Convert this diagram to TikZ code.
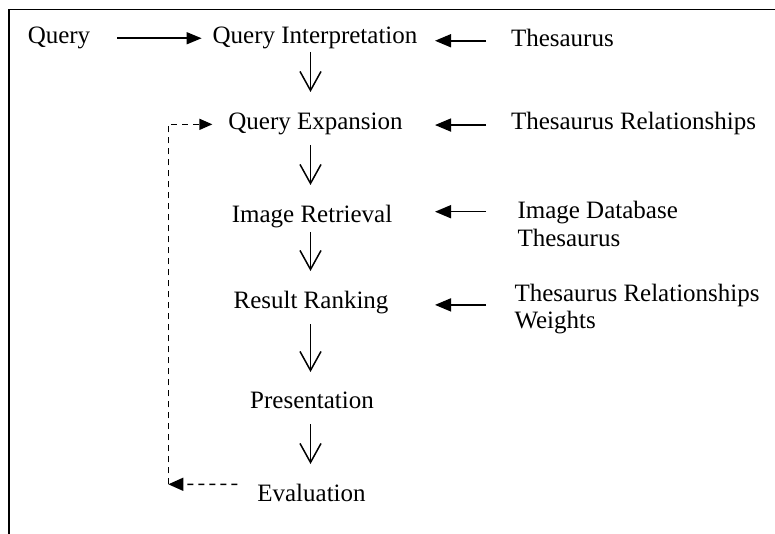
\documentclass[tikz,border=0pt]{standalone}
\usepackage{fontspec}
\setmainfont{Liberation Serif}
\usetikzlibrary{arrows.meta}
\begin{document}
\begin{tikzpicture}[x=1pt,y=-1pt,
  every node/.style={inner sep=0pt,outer sep=0pt,font=\fontsize{25}{27.5}\selectfont},
  lbl/.style={text height=17pt,text depth=5.5pt,anchor=base},
  side/.style={text height=17pt,text depth=5.5pt,anchor=base west},
  multi/.style={align=left,anchor=north west},
  flow/.style={line width=1.5pt,-{Straight Barb[length=19pt,width=21pt,line width=1.5pt]}},
  feed/.style={line width=1.6pt,-{Triangle[length=16pt,width=13pt]}},
  into/.style={line width=1.5pt,-{Triangle[length=15pt,width=12pt]}},
  back/.style={line width=1.5pt,dash pattern=on 6pt off 5pt}]
\useasboundingbox (0,0) rectangle (775,534);
% frame
\draw[line width=1.8pt] (9,535) -- (9,9.5) -- (776,9.5);

% main column
\node[lbl] (query) at (59,44) {Query};
\node[lbl] (qi)  at (315,44)    {Query Interpretation};
\node[lbl] (qe)  at (315.5,129.3) {Query Expansion};
\node[lbl] (ir)  at (312,222.3) {Image Retrieval};
\node[lbl] (rr)  at (311,308.3) {Result Ranking};
\node[lbl] (pr)  at (312,408.3) {Presentation};
\node[lbl] (ev)  at (311.5,501) {Evaluation};
\coordinate (axis) at (310.5,0);

% knowledge sources
\node[side]  (thes)  at (511,46.5)  {Thesaurus};
\node[side]  (threl) at (511,129.3) {Thesaurus Relationships};
\node[multi] (idb)   at (517.5,201.2) {Image Database\\Thesaurus};
\node[multi] (trw)   at (514.5,283.9) {Thesaurus Relationships\\Weights};

% query enters the process
\draw[into] ([xshift=27pt]query.east) -- ([xshift=-11pt]qi.west |- query.east);

% downward flow
\draw[flow,shorten <=2.5pt,shorten >=20.3pt] (qi.south -| axis) -- (qe.north -| axis);
\draw[flow,shorten <=10pt,shorten >=20.3pt] (qe.south -| axis) -- (ir.north -| axis);
\draw[flow,shorten <=4.2pt,shorten >=20.3pt] (ir.south -| axis) -- (rr.north -| axis);
\draw[flow,shorten <=10.2pt,shorten >=19.3pt] (rr.south -| axis) -- (pr.north -| axis);
\draw[flow,shorten <=10.2pt,shorten >=20pt] (pr.south -| axis) -- (ev.north -| axis);

% inputs from the knowledge sources
\draw[feed] ([xshift=-25pt]thes.west) -- ++(-51pt,0);
\draw[feed] ([xshift=-25pt,yshift=-1.5pt]threl.west) -- ++(-51pt,0);
\draw[feed] ([xshift=-31.5pt,yshift=-10.5pt]idb.north west) -- ++(-51pt,0);
\draw[feed] ([xshift=-28.5pt,yshift=-21pt]trw.north west) -- ++(-51pt,0);

% feedback loop from evaluation to query expansion
\coordinate (loop) at (168.3,484.3);
\draw[back,-{Triangle[length=15pt,width=13pt]}] ([xshift=-20pt,yshift=11pt]ev.west) -- (loop);
\draw[back,-{Triangle[length=13pt,width=11pt]}] (loop) |- ([xshift=-16pt,yshift=-0.8pt]qe.west);
\end{tikzpicture}
\end{document}
